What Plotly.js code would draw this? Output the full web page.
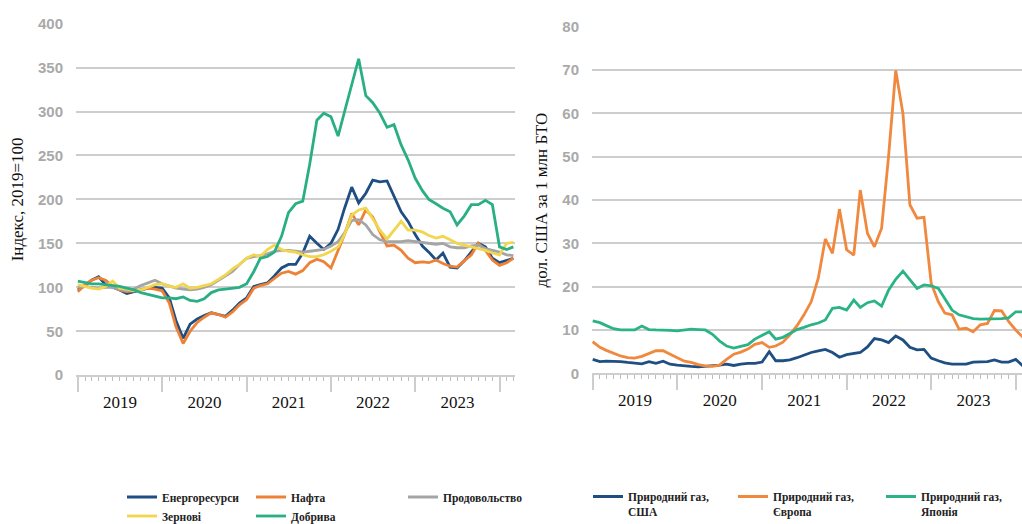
<!DOCTYPE html>
<html>
<head>
<meta charset="utf-8">
<script src="https://cdn.plot.ly/plotly-3.0.1.min.js"></script>
<style>html,body{margin:0;padding:0;background:#fff;}#chart{width:1022px;height:524px;}</style>
</head>
<body>
<div id="chart"></div>
<script>
// ---- Left panel: price indices, 2019=100 (monthly from Jan 2019) ----
const leftStart = [2019, 1];
const energy = [97,102,108,112,103,100,97,93,95,97, 99,100,99,88,62,42,58,64,68,71, 69,67,74,82,88,101,103,105,113,122, 126,126,139,158,150,143,150,166,190,214, 196,207,222,220,221,203,186,175,160,147, 140,131,139,123,122,130,140,150,146,133, 128,131,133];
const oil = [95,103,108,111,108,101,97,95,96,97, 99,98,96,82,55,36,50,60,66,71, 69,66,72,80,86,99,102,104,110,116, 118,115,119,128,132,129,122,142,160,184, 171,188,180,163,147,148,142,133,128,129, 128,131,127,124,123,130,137,150,142,131, 125,128,133];
const food = [100,101,100,99,100,100,98,96,98,102, 105,108,104,101,99,98,97,98,100,103, 108,112,118,126,133,135,136,138,141,142, 142,141,140,141,142,143,147,152,162,176, 177,171,160,154,152,152,152,153,152,151, 150,149,150,146,145,145,147,148,144,142, 140,137,136];
const grains = [103,101,99,98,101,107,99,98,96,97, 100,103,104,101,100,104,99,100,102,104, 109,114,121,126,133,137,135,143,148,143, 141,140,137,135,135,137,141,146,160,182, 188,190,178,165,155,165,175,165,165,163, 159,156,158,154,150,148,146,144,142,139, 137,150,151];
const fertilizers = [107,105,104,104,103,102,101,99,97,94, 92,90,88,88,87,89,85,84,87,94, 97,98,99,100,104,118,133,135,140,158, 185,195,198,240,290,298,294,272,300,330, 360,318,310,298,282,285,262,245,224,210, 200,195,190,186,171,181,194,194,199,194, 146,143,146];
const leftNames = ['Енергоресурси','Нафта','Продовольство','Зернові','Добрива'];

// ---- Right panel: natural gas prices, USD per mmBtu (monthly from Jan 2019) ----
const rightStart = [2019, 1];
const gasUS = [3.2,2.7,2.8,2.8,2.7,2.5,2.4,2.2,2.7,2.3, 2.8,2.1,1.9,1.7,1.6,1.5,1.6,1.7,1.9,2.1, 1.8,2.1,2.3,2.3,2.6,5.0,2.9,2.9,3.1,3.6, 4.2,4.8,5.2,5.5,4.8,3.7,4.3,4.6,4.8,6.1, 8.0,7.7,7.1,8.6,7.7,6.0,5.4,5.5,3.5,2.9, 2.4,2.1,2.1,2.1,2.6,2.7,2.7,3.1,2.6,2.6, 3.2,1.7];
const gasEurope = [7.3,6.0,5.3,4.6,4.0,3.6,3.5,3.9,4.6,5.2, 5.2,4.5,3.6,2.8,2.5,2.0,1.7,1.6,1.9,3.2, 4.4,4.9,5.6,6.7,7.1,6.0,6.3,7.2,8.9,11.0, 13.5,16.5,22.0,31.0,27.7,37.9,28.5,27.3,42.3,32.3, 29.2,33.5,50.0,69.9,60.0,38.9,35.8,36.0,20.8,16.5, 13.9,13.5,10.2,10.4,9.6,11.2,11.5,14.5,14.4,12.0, 10.0,8.3];
const gasJapan = [12.1,11.7,11.0,10.3,10.0,10.0,10.0,10.9,10.1,10.0, 10.0,9.9,9.8,10.0,10.2,10.1,10.0,9.0,7.5,6.3, 5.8,6.2,6.6,7.9,8.8,9.6,7.9,8.3,9.2,10.1, 10.6,11.2,11.6,12.3,15.0,15.2,14.6,16.9,15.2,16.3, 16.7,15.5,19.2,21.7,23.6,21.5,19.6,20.4,20.2,19.6, 17.3,14.6,13.5,13.0,12.6,12.5,12.5,12.5,12.6,12.8, 14.2,14.2];
const rightNames = ['Природний газ,<br>США','Природний газ,<br>Європа','Природний газ,<br>Японія'];

const leftTitle = 'Індекс, 2019=100';
const rightTitle = 'дол. США за 1 млн БТО';

function months(start, n) {
  const out = [];
  let y = start[0], m = start[1];
  for (let k = 0; k < n; k++) {
    out.push(y + '-' + String(m).padStart(2, '0') + '-01');
    m++; if (m > 12) { m = 1; y++; }
  }
  return out;
}
const xL = months(leftStart, energy.length);
const xR = months(rightStart, gasUS.length);

const C = {blue:'#1f4e82', orange:'#ee8136', grey:'#a5a5a5', yellow:'#f2d650', green:'#2aaf85'};
const LW = 2.8;

function tr(x, y, name, color, xa, ya, leg, lw) {
  return {x:x, y:y, name:name, type:'scatter', mode:'lines', line:{color:color, width:LW},
          xaxis:xa, yaxis:ya, legend:leg, legendwidth:lw, hoverinfo:'skip'};
}

const data = [
  tr(xL, energy, leftNames[0], C.blue, 'x', 'y', 'legend', 84),
  tr(xL, oil, leftNames[1], C.orange, 'x', 'y', 'legend', 107),
  tr(xL, food, leftNames[2], C.grey, 'x', 'y', 'legend', 90),
  tr(xL, grains, leftNames[3], C.yellow, 'x', 'y', 'legend2', 84),
  tr(xL, fertilizers, leftNames[4], C.green, 'x', 'y', 'legend2', 80),
  tr(xR, gasUS, rightNames[0], C.blue, 'x2', 'y2', 'legend3', 100),
  tr(xR, gasEurope, rightNames[1], '#f0883e', 'x2', 'y2', 'legend3', 103),
  tr(xR, gasJapan, rightNames[2], '#2ab386', 'x2', 'y2', 'legend3', 90)
];

const W = 1022, H = 524;
const xTickFont = {family:'Liberation Serif, Times New Roman, serif', size:17, color:'#111'};
const yTickFont = {family:'Liberation Sans, Arial, sans-serif', size:15, color:'#a9a9a9', weight:'bold'};
const titleFont = {family:'Liberation Serif, Times New Roman, serif', size:17, color:'#111'};

function xAxis(domain, range, anchor) {
  return {
    domain: domain, type:'date', range: range, anchor: anchor,
    showline:true, linecolor:'#cdcdcd', linewidth:2,
    showgrid:false, zeroline:false,
    ticks:'outside', ticklen:15, tickwidth:2, tickcolor:'#cdcdcd',
    dtick:'M12', tick0:'2019-01-01', tickformat:'%Y', ticklabelmode:'period',
    ticklabelstandoff:-5,
    tickfont: xTickFont,
    minor:{dtick:'M1', tick0:'2019-01-01', ticks:'outside', ticklen:4, tickwidth:1, tickcolor:'#bdbdbd', showgrid:false}
  };
}
function yAxis(domain, range, dtick, anchor, title) {
  return {
    domain: domain, range: range, dtick: dtick, anchor: anchor,
    showgrid:true, gridcolor:'#cdcdcd', gridwidth:2, zeroline:false, showline:false,
    ticks:'', ticklabelstandoff: 12, tickfont: yTickFont,
    title:{text:title, font:titleFont, standoff:10}
  };
}
const legFont = {family:'Liberation Serif, Times New Roman, serif', size:11.5, color:'#222', weight:'bold'};
function legend(xpx, ypx, valign) {
  return {orientation:'h', x:xpx/W, y:1-ypx/H, xanchor:'left', yanchor:'middle',
          font:legFont, bgcolor:'rgba(0,0,0,0)', itemwidth:30, valign:valign || 'middle',
          itemclick:false, itemdoubleclick:false};
}

const layout = {
  width:W, height:H,
  margin:{l:0, r:0, t:0, b:0, autoexpand:false},
  paper_bgcolor:'#ffffff', plot_bgcolor:'#ffffff',
  showlegend:true,
  xaxis: xAxis([76/W, 515/W], ['2018-12-24','2024-03-08'], 'y'),
  yaxis: yAxis([(H-375.2)/H, (H-23.6)/H], [0,400], 50, 'x', leftTitle),
  xaxis2: xAxis([592/W, 1], ['2018-12-29','2024-01-28'], 'y2'),
  yaxis2: yAxis([(H-373.3)/H, (H-26.7)/H], [0,80], 10, 'x2', rightTitle),
  legend: legend(122, 497),
  legend2: legend(122, 516),
  legend3: legend(588, 504, 'top')
};

Plotly.newPlot('chart', data, layout, {displayModeBar:false, staticPlot:true});
</script>
</body>
</html>
